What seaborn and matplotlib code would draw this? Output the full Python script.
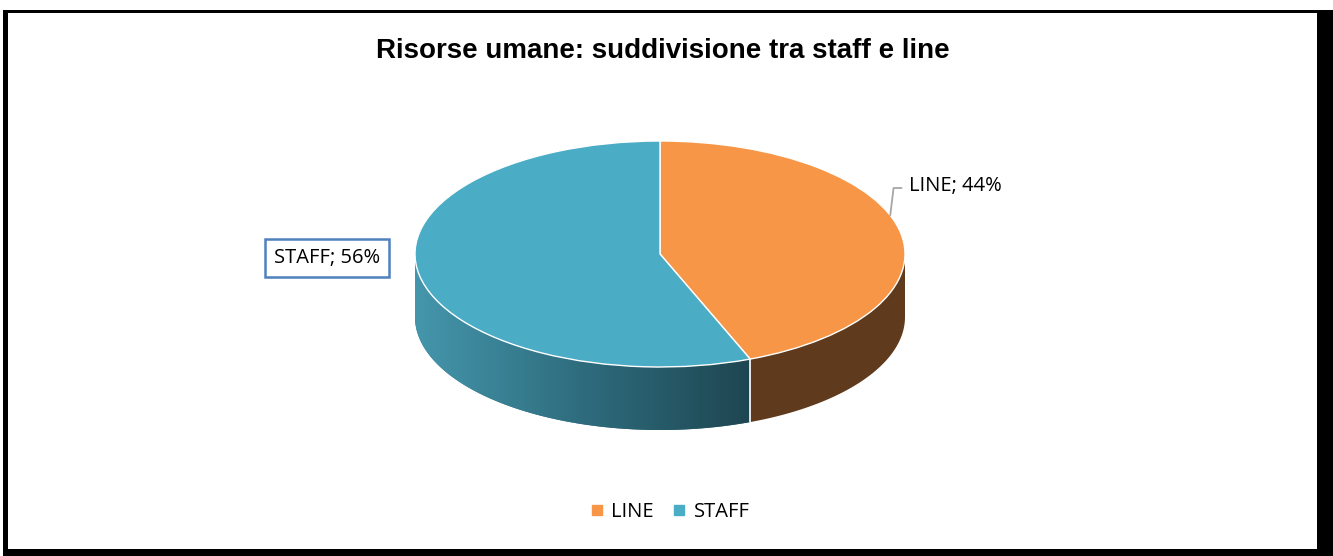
import numpy as np
import matplotlib
matplotlib.use("Agg")
import matplotlib.pyplot as plt
import seaborn as sns
from matplotlib.patches import Rectangle
from matplotlib.lines import Line2D
from matplotlib.colors import LinearSegmentedColormap

# ---- data ----
categories = ["LINE", "STAFF"]
values = [44, 56]
labels = ["LINE; 44%", "STAFF; 56%"]

# ---- style ----
sns.set_style("white")
plt.rcParams['font.family'] = ['Open Sans', 'DejaVu Sans']
plt.rcParams['text.color'] = 'black'

top_colors = ["#F79646", "#4BACC6"]
side_colors = ["#603A1C", "#2F6E80"]

W, H = 1333, 556
fig = plt.figure(figsize=(W / 100, H / 100), dpi=100)
fig.patch.set_facecolor("white")

# frame with shadow
fig.patches.append(Rectangle((3 / W, 0), 1 - 3 / W, 1 - 10 / H, transform=fig.transFigure,
                             facecolor="black", edgecolor="none", zorder=0))
fig.patches.append(Rectangle((8 / W, 7 / H), (1317 - 8) / W, (543 - 7) / H,
                             transform=fig.transFigure, facecolor="white",
                             edgecolor="none", zorder=0.5))

# pie geometry (pixels)
cx, cy = 660, 302      # from bottom
rx, ry = 245, 113
depth = 63 / ry

ax = fig.add_axes([0, 0, 1, 1])
ax.set_zorder(2)
ax.patch.set_alpha(0)

wedges, _ = ax.pie(values, colors=top_colors, startangle=90, counterclock=False,
                   radius=1, wedgeprops=dict(edgecolor="white", linewidth=1.0, zorder=5))
ax.set_axis_off()

# side walls computed from the values
fracs = np.array(values) / np.sum(values)
start = 90.0
bounds = []
for i, f in enumerate(fracs):
    a1 = start
    a0 = start - 360 * f
    bounds.append(a0)
    segs = []
    for shift in (0, -360, 360):
        l, h = a0 + shift, a1 + shift
        l2, h2 = max(l, -180), min(h, 0)
        if h2 > l2:
            segs.append((l2, h2))
    for (l2, h2) in segs:
        th = np.radians(np.linspace(l2, h2, 200))
        xs = np.concatenate([np.cos(th), np.cos(th[::-1])])
        ys = np.concatenate([np.sin(th), np.sin(th[::-1]) - depth])
        poly = ax.fill(xs, ys, color=side_colors[i], lw=0, zorder=2)[0]
        if categories[i] == "STAFF":
            cmap = LinearSegmentedColormap.from_list("g", ["#4596AC", "#2E6C7D", "#1E4651"])
            grad = np.linspace(0, 1, 256).reshape(1, -1)
            im = ax.imshow(grad, cmap=cmap, aspect="auto",
                           extent=(xs.min(), xs.max(), ys.min(), ys.max()), zorder=3)
            im.set_clip_path(poly)
    start = a0
ax.set_aspect("auto")
ax.set_xlim(-cx / rx, (W - cx) / rx)
ax.set_ylim(-cy / ry, (H - cy) / ry)

# white separator on the side wall
for b in bounds[:-1]:
    t = np.radians(b)
    ax.plot([np.cos(t), np.cos(t)], [np.sin(t), np.sin(t) - depth], color="white", lw=1.2, zorder=4)

# title
fig.text(663 / W, 1 - 51 / H, "Risorse umane: suddivisione tra staff e line",
         ha="center", va="center", fontsize=20, fontweight="bold", color="black",
         family=["Liberation Sans", "DejaVu Sans"])

# labels
t = np.radians(20)
ax.annotate(labels[0], xy=(np.cos(t), np.sin(t)), xycoords="data",
            xytext=(909 / W, 1 - 186 / H), textcoords="figure fraction",
            ha="left", va="center", fontsize=14.5, color="black",
            arrowprops=dict(arrowstyle="-", color="#A6A6A6", lw=1.3,
                            connectionstyle="angle,angleA=0,angleB=83,rad=0",
                            relpos=(0, 0.4), shrinkA=3, shrinkB=0), zorder=6)

fig.text(327 / W, 1 - 258 / H, labels[1], ha="center", va="center", fontsize=14.5,
         color="black",
         bbox=dict(boxstyle="square,pad=0.45", facecolor="white", edgecolor="#4F81BD", lw=1.8))

# legend
handles = [Line2D([], [], marker="s", linestyle="none", markersize=7,
                  markerfacecolor=c, markeredgecolor=c) for c in top_colors]
fig.legend(handles, categories, loc="center", bbox_to_anchor=(669 / W, 1 - 512 / H),
           ncol=2, frameon=False, fontsize=14.5, handletextpad=0.3, columnspacing=0.9,
           handlelength=0.8)

fig.savefig("out.png", dpi=100)
